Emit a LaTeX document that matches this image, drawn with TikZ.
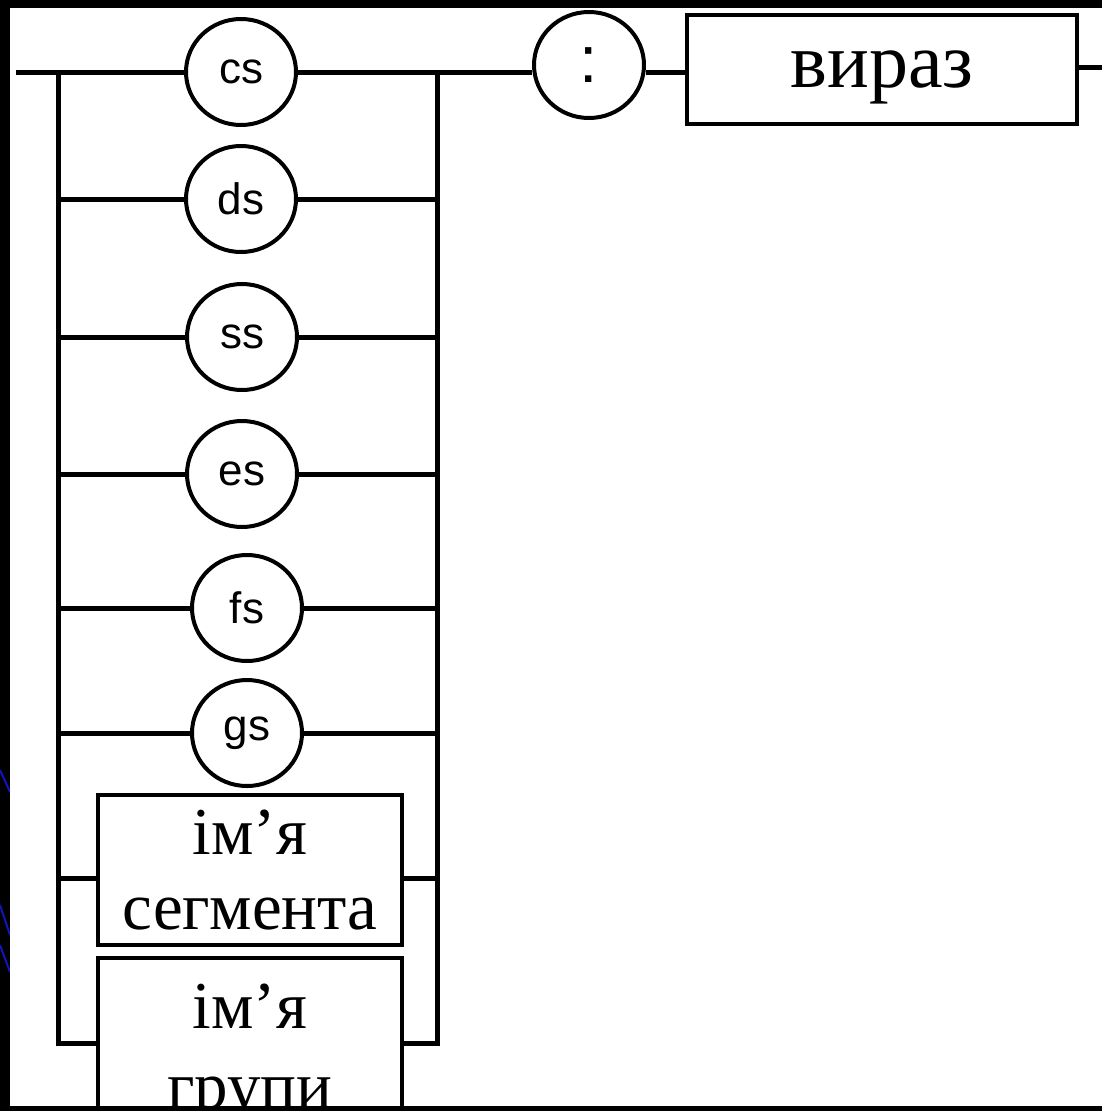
\documentclass[tikz,border=0pt]{standalone}
\usepackage{fontspec}
\setmainfont{Liberation Serif}
\newfontfamily\tagfont{Liberation Sans}
\usetikzlibrary{shapes.geometric}

\begin{document}
\begin{tikzpicture}[x=1pt,y=-1pt,
  wire/.style={line width=5pt},
  term/.style={draw, ellipse, line width=4pt, minimum width=110pt,
    minimum height=106pt, inner sep=0pt,
    font=\tagfont\fontsize{44}{44}\selectfont},
  nonterm/.style={draw, rectangle, line width=4.5pt, inner sep=0pt,
    align=center, font=\fontsize{67}{75}\selectfont},
  slideline/.style={line width=2pt, draw={rgb,255:red,20;green,20;blue,190}}]

\useasboundingbox (0,0) rectangle (1102,1111);

% slide background and white panel
\fill[black] (0,0) rectangle (1102,1111);
\draw[slideline] (0,770) -- (10,792);
\draw[slideline] (0,905) -- (10,935);
\draw[slideline] (0,945) -- (10,972);
\fill[white] (10,8) rectangle (1102,1106);

\begin{scope}
\clip (10,8) rectangle (1102,1106);

% junctions of the alternative block
\coordinate (start) at (16,72);
\coordinate (jl) at (58,72);
\coordinate (jr) at (437,72);
\coordinate (lb) at (58,1043);
\coordinate (rb) at (437,1043);
\coordinate (segrow) at (0,878);
\coordinate (exit) at (1110,67);

% terminal symbols
\node[term] (cs) at (241,72) {cs};
\node[term] (ds) at (241,199) {ds};
\node[term] (ss) at (242,337) {ss};
\node[term] (es) at (242,474) {es};
\node[term] (fs) at (247,608) {fs};
\node[term] (gs) at (247,733) {gs};
\node[term, font=\tagfont\fontsize{66}{66}\selectfont] (colon) at (589,65) {:};

% non-terminal symbols
\node[nonterm, minimum width=390pt, minimum height=109pt, text depth=0pt,
      font=\fontsize{78}{80}\selectfont] (viraz) at (882,69.5) {вираз};
\node[nonterm, minimum width=304pt, minimum height=150pt] (seg) at (250,870)
  {ім’я\\сегмента};
\node[nonterm, minimum width=304pt, minimum height=190pt] (grp) at (250,1053)
  {ім’я\\[5pt]групи};

% main line
\draw[wire] (start) -- (cs);
\draw[wire] (cs) -- (colon.west |- cs);
\draw[wire] (colon.east |- cs) -- (viraz.west |- cs);
\draw[wire] (viraz.east |- exit) -- (exit);

% rails of the alternatives
\draw[wire] (jl) -- (lb) -- (grp.west |- lb);
\draw[wire] (jr) -- (rb) -- (grp.east |- rb);

% branches
\foreach \n in {ds,ss,es,fs,gs} {
  \draw[wire] (jl |- \n) -- (\n);
  \draw[wire] (\n) -- (jr |- \n);
}
\draw[wire] (jl |- segrow) -- (seg.west |- segrow);
\draw[wire] (seg.east |- segrow) -- (jr |- segrow);
\end{scope}
\end{tikzpicture}
\end{document}
